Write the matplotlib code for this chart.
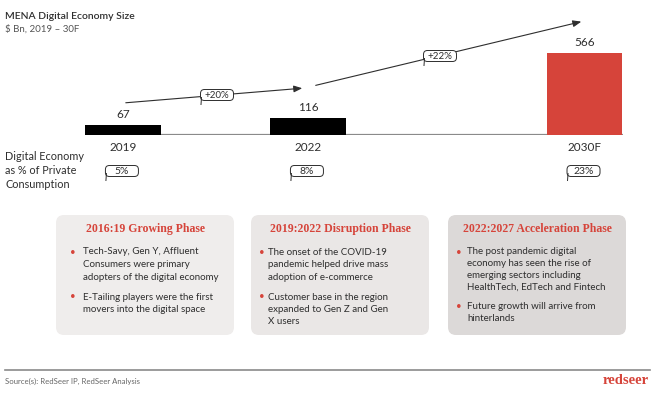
import matplotlib.pyplot as plt
from matplotlib.patches import FancyBboxPatch

# data
years = ['2019', '2022', '2030F']
size_bn = [67, 116, 566]
share_pct = ['5%', '8%', '23%']
cagr = ['+20%', '+22%']
bar_colors = ['black', 'black', '#d6443a']

phase_titles = ['2016:19 Growing Phase', '2019:2022 Disruption Phase', '2022:2027 Acceleration Phase']
phase_bullets = [
    [['Tech-Savy, Gen Y, Affluent', 'Consumers were primary', 'adopters of the digital economy'],
     ['E-Tailing players were the first', 'movers into the digital space']],
    [['The onset of the COVID-19', 'pandemic helped drive mass', 'adoption of e-commerce'],
     ['Customer base in the region', 'expanded to Gen Z and Gen', 'X users']],
    [['The post pandemic digital', 'economy has seen the rise of', 'emerging sectors including', 'HealthTech, EdTech and Fintech'],
     ['Future growth will arrive from', 'hinterlands']],
]
phase_fill = ['#efedec', '#eae7e6', '#dcd9d8']

RED = '#d6443a'
DARK = '#2e2e2e'
plt.rcParams['font.family'] = ['Lato', 'DejaVu Sans']

W, H = 657, 394
fig = plt.figure(figsize=(W / 100, H / 100), dpi=100)

# overlay in pixel coordinates for annotations
ov = fig.add_axes([0, 0, 1, 1])
ov.set_xlim(0, W)
ov.set_ylim(H, 0)
ov.axis('off')

# bar axes: baseline at y=135px, x from 85 to 623px
xpos = [0, 1, 2.495]
left_px, right_px, base_px, top_px = 85, 623, 135, 10
ax = fig.add_axes([left_px / W, 1 - base_px / H, (right_px - left_px) / W, (base_px - top_px) / H])
ax.set_xlim(-0.205, 2.703)
ax.set_ylim(0, (base_px - top_px) / 0.145)
ax.axis('off')
ax.bar(xpos, size_bn, width=0.41, color=bar_colors, zorder=2)
ax.axhline(0, color='#8a8a8a', lw=1.6, zorder=1)
for x, v in zip(xpos, size_bn):
    ax.annotate(str(v), (x, v), xytext=(0, 3.5), textcoords='offset points',
                ha='center', va='bottom', fontsize=8.5, color=DARK)
for x, lab in zip(xpos, years):
    ax.annotate(lab, (x, 0), xytext=(0, -5), textcoords='offset points',
                ha='center', va='top', fontsize=8.5, color=DARK)


def bubble(cx, cy, s, w=33, h=11, fs=7):
    ov.add_patch(FancyBboxPatch((cx - w / 2, cy - h / 2), w, h,
                                boxstyle='round,pad=0,rounding_size=4',
                                fc='white', ec=DARK, lw=0.7, zorder=5))
    ov.plot([cx - w / 2 + 1, cx - w / 2 + 0.5], [cy + h / 2 - 3, cy + h / 2 + 4],
            color=DARK, lw=0.7, zorder=6)
    ov.text(cx, cy, s, ha='center', va='center', fontsize=fs, color=DARK, zorder=7)


# growth arrows
ov.annotate('', xy=(305, 88), xytext=(123, 103),
            arrowprops=dict(arrowstyle='-|>,head_length=0.5,head_width=0.2', color=DARK, lw=0.8))
ov.annotate('', xy=(584, 21), xytext=(313, 86),
            arrowprops=dict(arrowstyle='-|>,head_length=0.5,head_width=0.2', color=DARK, lw=0.8))
for (bx, by), s in zip([(217, 95), (440, 56)], cagr):
    bubble(bx, by, s, h=11)

# share bubbles
for x, s in zip(xpos, share_pct):
    px = left_px + (x + 0.205) / 2.908 * (right_px - left_px)
    bubble(px - 1, 171, s, w=33, h=11, fs=7.5)

# titles
ov.text(5, 16, 'MENA Digital Economy Size', fontsize=7.5, color=DARK, va='center', weight='semibold')
ov.text(5, 29, '$ Bn, 2019 \u2013 30F', fontsize=7, color='#555555', va='center')
for i, line in enumerate(['Digital Economy', 'as % of Private', 'Consumption']):
    ov.text(5, 156 + 14 * i, line, fontsize=7.8, color=DARK, va='center')

# phase boxes
box_x = [56, 251, 448]
bullet_dx = [17, 11, 11]
text_dx = [27, 17, 19]
line_h = [12.5, 12.5, 11.8]
bw, by0, bh = 178, 215, 120
for i in range(3):
    bx = box_x[i]
    ov.add_patch(FancyBboxPatch((bx, by0), bw, bh, boxstyle='round,pad=0,rounding_size=8',
                                fc=phase_fill[i], ec='none', zorder=1))
    ov.text(bx + bw / 2, 229, phase_titles[i], ha='center', va='center', fontsize=8.5,
            color=RED, weight='bold', family='Liberation Serif')
    y = 252
    for bullet in phase_bullets[i]:
        ov.text(bx + bullet_dx[i], y, '\u2022', color=RED, fontsize=7, va='center', ha='center')
        for line in bullet:
            ov.text(bx + text_dx[i], y, line, fontsize=7, color=DARK, va='center')
            y += line_h[i]
        y += 7.5

# footer
ov.plot([5, 650], [370, 370], color='#8a8a8a', lw=1.2)
ov.text(5, 381, 'Source(s): RedSeer IP, RedSeer Analysis', fontsize=5.6, color='#666666', va='center')
ov.text(649, 381, 'redseer', fontsize=10.5, color=RED, ha='right', va='center',
        family='Liberation Serif', weight='bold')

fig.savefig('out.png', dpi=100)
